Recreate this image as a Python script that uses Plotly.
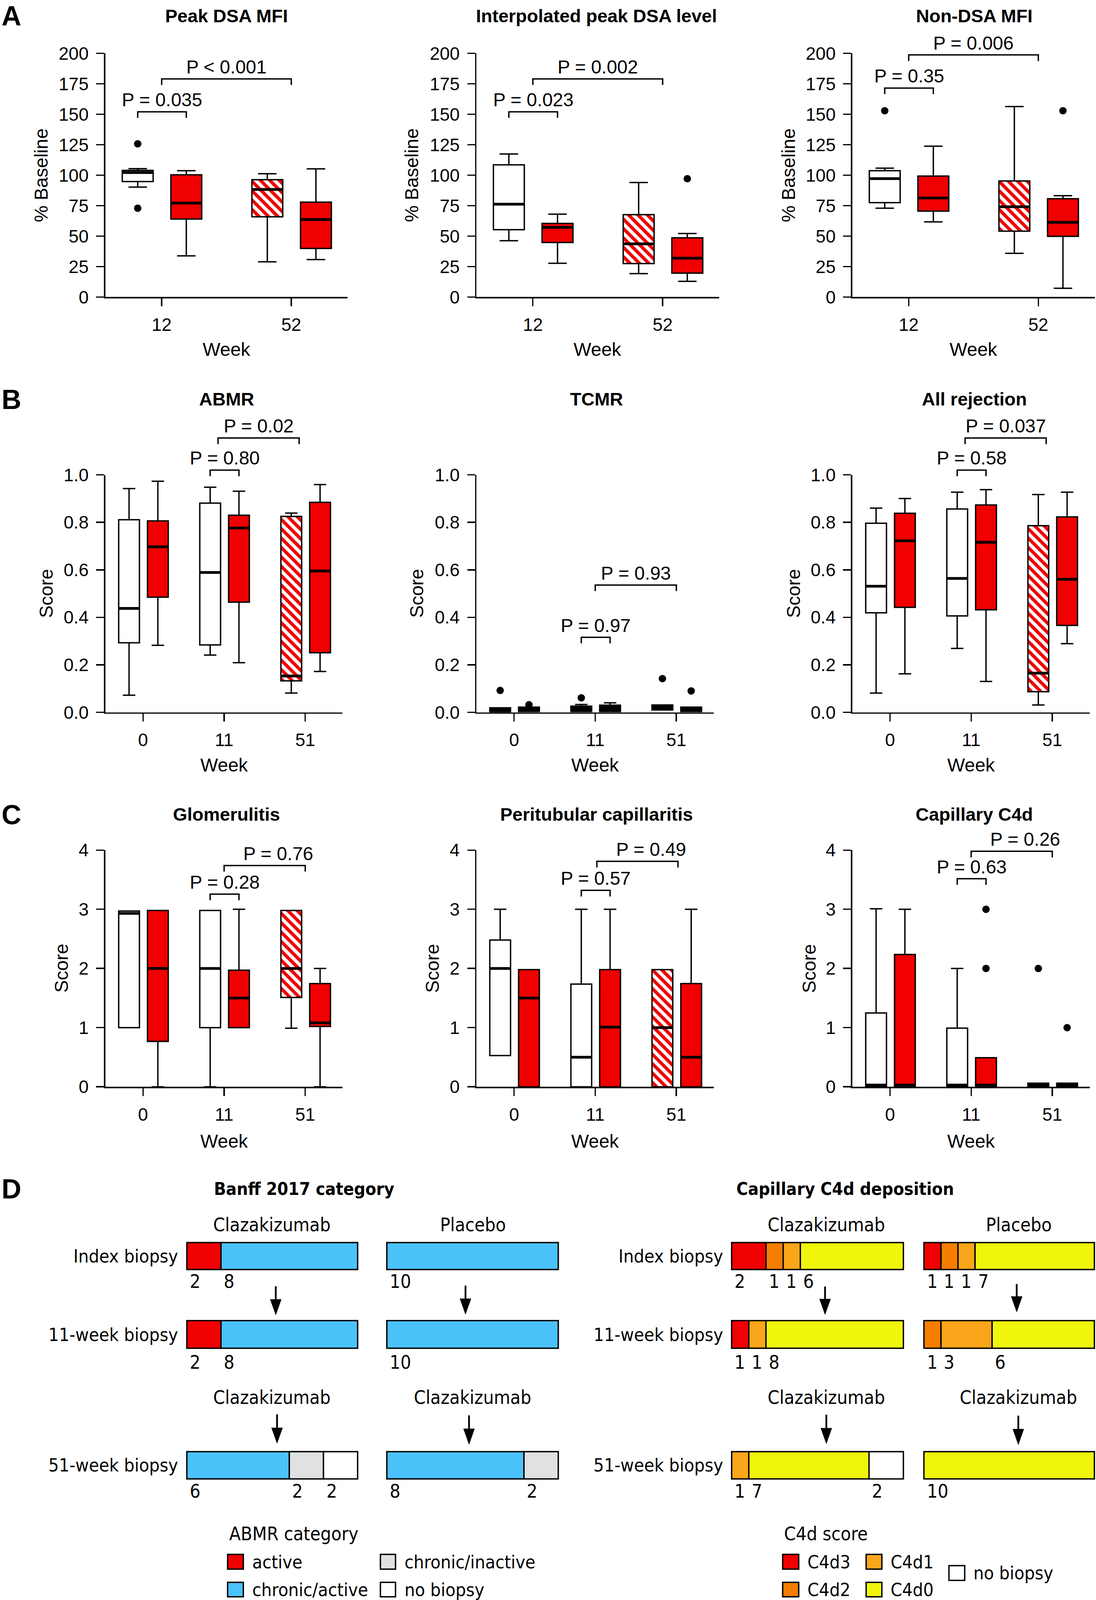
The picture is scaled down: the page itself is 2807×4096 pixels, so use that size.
import plotly.graph_objects as go

# ============================ DATA ============================
weeks_a = ['12', '52']
weeks_bc = ['0', '11', '51']

# box order, panel A: placebo wk12, clazakizumab wk12, placebo->clazakizumab wk52, clazakizumab wk52
arm_a = ['placebo', 'claz', 'switch', 'claz']
time_a = [0, 0, 1, 1]
# box order, panels B/C: wk0 (placebo, claz), wk11 (placebo, claz), wk51 (switch, claz)
arm_bc = ['placebo', 'claz', 'placebo', 'claz', 'switch', 'claz']
time_bc = [0, 0, 1, 1, 2, 2]

# --- A: Peak DSA MFI (% baseline)
peak_lo = [90.2, 33.8, 28.9, 30.8]
peak_q1 = [94.8, 64.0, 65.9, 39.9]
peak_md = [102.2, 77.1, 88.3, 63.6]
peak_q3 = [103.9, 100.3, 96.3, 77.9]
peak_hi = [105.4, 103.7, 101.2, 105.2]
peak_out_box = [0, 0]
peak_out_val = [125.7, 72.9]
peak_p = ['P = 0.035', 'P < 0.001']

# --- A: Interpolated peak DSA level
interp_lo = [46.2, 27.7, 19.2, 12.9]
interp_q1 = [55.3, 44.8, 27.5, 19.6]
interp_md = [76.2, 57.2, 43.7, 31.9]
interp_q3 = [108.5, 60.4, 67.6, 48.6]
interp_hi = [117.4, 68.0, 94.0, 52.2]
interp_out_box = [3]
interp_out_val = [97.1]
interp_p = ['P = 0.023', 'P = 0.002']

# --- A: Non-DSA MFI
nondsa_lo = [72.9, 61.7, 35.9, 7.2]
nondsa_q1 = [77.5, 70.5, 54.1, 49.8]
nondsa_md = [97.2, 81.3, 74.1, 61.3]
nondsa_q3 = [103.7, 99.3, 95.3, 80.7]
nondsa_hi = [105.8, 123.8, 156.3, 83.2]
nondsa_out_box = [0, 3]
nondsa_out_val = [152.9, 152.9]
nondsa_p = ['P = 0.35', 'P = 0.006']

# --- B: ABMR score
abmr_lo = [0.072, 0.282, 0.241, 0.209, 0.081, 0.172]
abmr_q1 = [0.293, 0.485, 0.284, 0.464, 0.1325, 0.251]
abmr_md = [0.4375, 0.697, 0.589, 0.776, 0.153, 0.595]
abmr_q3 = [0.811, 0.806, 0.881, 0.830, 0.825, 0.884]
abmr_hi = [0.942, 0.973, 0.948, 0.931, 0.839, 0.959]
abmr_out_box = []
abmr_out_val = []
abmr_p = ['P = 0.80', 'P = 0.02']

# --- B: TCMR score
tcmr_lo = [0.0, 0.003, 0.003, 0.003, 0.010, 0.003]
tcmr_q1 = [0.0, 0.003, 0.003, 0.003, 0.010, 0.003]
tcmr_md = [0.008, 0.010, 0.012, 0.012, 0.020, 0.010]
tcmr_q3 = [0.019, 0.022, 0.026, 0.030, 0.031, 0.022]
tcmr_hi = [0.019, 0.022, 0.033, 0.040, 0.031, 0.022]
tcmr_out_box = [0, 1, 2, 4, 5]
tcmr_out_val = [0.092, 0.032, 0.061, 0.142, 0.090]
tcmr_p = ['P = 0.97', 'P = 0.93']

# --- B: All rejection score
allrej_lo = [0.081, 0.162, 0.269, 0.130, 0.031, 0.289]
allrej_q1 = [0.419, 0.442, 0.406, 0.432, 0.087, 0.366]
allrej_md = [0.531, 0.722, 0.564, 0.716, 0.165, 0.560]
allrej_q3 = [0.796, 0.838, 0.856, 0.873, 0.786, 0.823]
allrej_hi = [0.860, 0.900, 0.927, 0.9375, 0.917, 0.927]
allrej_out_box = []
allrej_out_val = []
allrej_p = ['P = 0.58', 'P = 0.037']

# --- C: Glomerulitis
glom_lo = [1.0, 0.0, 0.0, 1.0, 0.99, 0.0]
glom_q1 = [1.0, 0.767, 1.0, 1.0, 1.51, 1.02]
glom_md = [2.93, 2.0, 2.0, 1.5, 2.0, 1.08]
glom_q3 = [2.97, 2.98, 2.98, 1.97, 2.98, 1.744]
glom_hi = [2.97, 2.98, 2.98, 3.0, 2.98, 2.0]
glom_out_box = []
glom_out_val = []
glom_p = ['P = 0.28', 'P = 0.76']

# --- C: Peritubular capillaritis
ptc_lo = [0.527, 0.0, 0.0, 0.0, 0.0, 0.0]
ptc_q1 = [0.527, 0.0, 0.0, 0.0, 0.0, 0.0]
ptc_md = [2.0, 1.5, 0.5, 1.008, 1.0, 0.5]
ptc_q3 = [2.48, 1.98, 1.736, 1.98, 1.98, 1.744]
ptc_hi = [3.0, 1.98, 3.0, 3.0, 1.98, 3.0]
ptc_out_box = []
ptc_out_val = []
ptc_p = ['P = 0.57', 'P = 0.49']

# --- C: Capillary C4d
c4d_lo = [0.0, 0.0, 0.0, 0.0, 0.0, 0.0]
c4d_q1 = [0.0, 0.0, 0.0, 0.0, 0.0, 0.0]
c4d_md = [0.03, 0.03, 0.03, 0.03, 0.03, 0.03]
c4d_q3 = [1.248, 2.236, 0.992, 0.492, 0.06, 0.06]
c4d_hi = [3.008, 3.0, 2.0, 0.492, 0.06, 0.06]
c4d_out_box = [3, 3, 4, 5]
c4d_out_val = [3.0, 2.0, 2.0, 1.0]
c4d_p = ['P = 0.63', 'P = 0.26']

# --- D: Banff 2017 category (patient counts)
banff_categories = ['active', 'chronic/active', 'chronic/inactive', 'no biopsy']
banff_claz_index = [2, 8, 0, 0]
banff_claz_wk11 = [2, 8, 0, 0]
banff_claz_wk51 = [0, 6, 2, 2]
banff_plac_index = [0, 10, 0, 0]
banff_plac_wk11 = [0, 10, 0, 0]
banff_plac_wk51 = [0, 8, 2, 0]

# --- D: Capillary C4d deposition (patient counts)
c4d_categories = ['C4d3', 'C4d2', 'C4d1', 'C4d0', 'no biopsy']
c4d_claz_index = [2, 1, 1, 6, 0]
c4d_claz_wk11 = [1, 0, 1, 8, 0]
c4d_claz_wk51 = [0, 0, 1, 7, 2]
c4d_plac_index = [1, 1, 1, 7, 0]
c4d_plac_wk11 = [0, 1, 3, 6, 0]
c4d_plac_wk51 = [0, 0, 0, 10, 0]

row_labels = ['Index biopsy', '11-week biopsy', '51-week biopsy']

# ============================ STYLE / LAYOUT ============================
W0, H0 = 3414.0, 4982.0          # reference pixel grid (drawn at 0.822)
FONT = 'Liberation Sans, Arial, Helvetica, sans-serif'
NARROW = '"Liberation Sans Narrow", "Arial Narrow", "DejaVu Sans Condensed", "Liberation Sans", sans-serif'
RED = '#F00000'
BLUE = '#4BC3FA'
GREY = '#DFE2E1'
banff_colors = [RED, BLUE, GREY, 'white']
c4d_colors = [RED, '#F57E00', '#FAA61A', '#F0F50C', 'white']
LW = 3.5

fig = go.Figure()
LAYOUT = {}
ANN = []
SHP = []
_n = [0]


def add_axes(X0, X1, Yt, Yb, xr, yr, xa_extra=None, ya_extra=None):
    _n[0] += 1
    s = '' if _n[0] == 1 else str(_n[0])
    xa = dict(domain=[max(0.0, X0 / W0), min(1.0, X1 / W0)], range=xr, anchor='y' + s,
              showgrid=False, zeroline=False, fixedrange=True, automargin=False)
    ya = dict(domain=[max(0.0, 1 - Yb / H0), min(1.0, 1 - Yt / H0)], range=yr, anchor='x' + s,
              showgrid=False, zeroline=False, fixedrange=True, automargin=False)
    if xa_extra:
        xa.update(xa_extra)
    if ya_extra:
        ya.update(ya_extra)
    LAYOUT['xaxis' + s] = xa
    LAYOUT['yaxis' + s] = ya
    return 'x' + s, 'y' + s


def text(X, Y, s, size, bold=False, family=FONT, xanchor='center', yanchor='middle', angle=0):
    ANN.append(dict(x=X / W0, y=1 - Y / H0, xref='paper', yref='paper',
                    text=('<b>%s</b>' % s) if bold else s, showarrow=False,
                    font=dict(family=family, size=size, color='black'),
                    xanchor=xanchor, yanchor=yanchor, textangle=angle))


def path(points, width=LW, fill=None, closed=False):
    p = 'M' + ' L'.join('%.6f,%.6f' % (x / W0, 1 - y / H0) for x, y in points)
    if closed:
        p += ' Z'
    d = dict(type='path', xref='paper', yref='paper', path=p,
             line=dict(color='black', width=width))
    if fill:
        d['fillcolor'] = fill
    SHP.append(d)


def rect(X0, Y0, X1, Y1, fill):
    SHP.append(dict(type='rect', xref='paper', yref='paper', x0=X0 / W0, x1=X1 / W0,
                    y0=1 - Y1 / H0, y1=1 - Y0 / H0, fillcolor=fill,
                    line=dict(color='black', width=LW)))


AX_STYLE = dict(showline=True, linecolor='black', linewidth=LW, ticks='outside', ticklen=20,
                tickwidth=LW, tickcolor='black',
                tickfont=dict(family=FONT, size=46, color='black'))

ROWS = {
    'A': dict(Yt=166, Yb=925, yr=[0, 200], yt=list(range(0, 201, 25)), yfmt='',
              ytitle='% Baseline', xr=[-0.435, 1.435], weeks=weeks_a, arm=arm_a, time=time_a,
              off=(-0.185, 0.19), bw=0.238, cols=[(328, 1083), (1484, 2240), (2655, 3410)],
              title_y=49, week_y=1088, ytitle_x=[128, 1282, 2456], short_t=0, long_t=(0, 1),
              week_x=0.5),
    'B': dict(Yt=1478.5, Yb=2218, yr=[0, 1], yt=[0, 0.2, 0.4, 0.6, 0.8, 1.0], yfmt='.1f',
              ytitle='Score', xr=[-0.465, 2.46], weeks=weeks_bc, arm=arm_bc, time=time_bc,
              off=(-0.172, 0.183), bw=0.256, cols=[(328, 1067), (1484, 2223), (2655, 3394)],
              title_y=1242, week_y=2382, ytitle_x=[144, 1299, 2472], short_t=1, long_t=(1, 2),
              week_x=1.0),
    'C': dict(Yt=2647, Yb=3384, yr=[0, 4], yt=[0, 1, 2, 3, 4], yfmt='',
              ytitle='Score', xr=[-0.465, 2.46], weeks=weeks_bc, arm=arm_bc, time=time_bc,
              off=(-0.172, 0.183), bw=0.256, cols=[(328, 1067), (1484, 2223), (2655, 3394)],
              title_y=2536, week_y=3554, ytitle_x=[191, 1347, 2520], short_t=1, long_t=(1, 2),
              week_x=1.0),
}
TITLE_X = [706, 1858, 3035]

PANELS = [
    ('A', 0, 'Peak DSA MFI', peak_lo, peak_q1, peak_md, peak_q3, peak_hi, peak_out_box, peak_out_val, peak_p, 152, 179, 0.0, 0),
    ('A', 1, 'Interpolated peak DSA level', interp_lo, interp_q1, interp_md, interp_q3, interp_hi, interp_out_box, interp_out_val, interp_p, 152, 179, 0.0, 0),
    ('A', 2, 'Non-DSA MFI', nondsa_lo, nondsa_q1, nondsa_md, nondsa_q3, nondsa_hi, nondsa_out_box, nondsa_out_val, nondsa_p, 171.5, 198.7, 0.0, 0),
    ('B', 0, 'ABMR', abmr_lo, abmr_q1, abmr_md, abmr_q3, abmr_hi, abmr_out_box, abmr_out_val, abmr_p, 1.020, 1.155, -0.075, 0),
    ('B', 1, 'TCMR', tcmr_lo, tcmr_q1, tcmr_md, tcmr_q3, tcmr_hi, tcmr_out_box, tcmr_out_val, tcmr_p, 0.316, 0.536, 0.0, 0),
    ('B', 2, 'All rejection', allrej_lo, allrej_q1, allrej_md, allrej_q3, allrej_hi, allrej_out_box, allrej_out_val, allrej_p, 1.020, 1.155, -0.075, 0),
    ('C', 0, 'Glomerulitis', glom_lo, glom_q1, glom_md, glom_q3, glom_hi, glom_out_box, glom_out_val, glom_p, 3.256, 3.74, 0.0, 42),
    ('C', 1, 'Peritubular capillaritis', ptc_lo, ptc_q1, ptc_md, ptc_q3, ptc_hi, ptc_out_box, ptc_out_val, ptc_p, 3.32, 3.81, 0.02, 42),
    ('C', 2, 'Capillary C4d', c4d_lo, c4d_q1, c4d_md, c4d_q3, c4d_hi, c4d_out_box, c4d_out_val, c4d_p, 3.516, 3.98, 0.0, 42),
]

for (rk, ci, title, lo, q1, md, q3, hi, ob, ov, pv, y_short, y_long, long_shift, long_dx) in PANELS:
    R = ROWS[rk]
    X0, X1 = R['cols'][ci]
    Yt, Yb, xr, yr = R['Yt'], R['Yb'], R['xr'], R['yr']
    xa = dict(AX_STYLE, type='linear', tickmode='array',
              tickvals=list(range(len(R['weeks']))), ticktext=R['weeks'], ticklabelstandoff=8)
    ya = dict(AX_STYLE, type='linear', tickmode='array', tickvals=R['yt'],
              tickformat=R['yfmt'], ticklabelstandoff=10)
    xs, ys = add_axes(X0, X1, Yt, Yb, xr, yr, xa, ya)

    def mx(x, X0=X0, X1=X1, xr=xr):
        return X0 + (x - xr[0]) / (xr[1] - xr[0]) * (X1 - X0)

    def my(y, Yt=Yt, Yb=Yb, yr=yr):
        return Yb - (y - yr[0]) / (yr[1] - yr[0]) * (Yb - Yt)

    bw = R['bw']
    span = yr[1] - yr[0]
    pos = [R['time'][i] + (R['off'][0] if R['arm'][i] in ('placebo', 'switch') else R['off'][1])
           for i in range(len(lo))]
    for i, arm in enumerate(R['arm']):
        tiny = (q3[i] - q1[i]) < 0.04 * span     # very flat boxes print as solid black bars
        if arm == 'switch' and not tiny:
            fig.add_trace(go.Bar(
                x=[pos[i]], y=[q3[i] - q1[i]], base=[q1[i]], width=bw, xaxis=xs, yaxis=ys,
                marker=dict(color='white', line=dict(width=0),
                            pattern=dict(shape='\\', fgcolor=RED, bgcolor='white',
                                         size=17, solidity=0.5)),
                showlegend=False, hoverinfo='skip'))
        fill = {'placebo': 'white', 'claz': RED, 'switch': 'rgba(0,0,0,0)'}[arm]
        if tiny:
            fill = 'black'
        fig.add_trace(go.Box(
            x=[pos[i]], q1=[q1[i]], median=[md[i]], q3=[q3[i]],
            lowerfence=[lo[i]], upperfence=[hi[i]], orientation='v',
            width=bw, whiskerwidth=0.6, fillcolor=fill, boxpoints=False,
            line=dict(color='black', width=LW), xaxis=xs, yaxis=ys,
            showlegend=False, hoverinfo='skip'))
        fig.add_trace(go.Scatter(
            x=[pos[i] - bw / 2, pos[i] + bw / 2], y=[md[i], md[i]], mode='lines',
            line=dict(color='black', width=7), xaxis=xs, yaxis=ys,
            showlegend=False, hoverinfo='skip'))
    if ob:
        fig.add_trace(go.Scatter(
            x=[pos[b] for b in ob], y=ov, mode='markers',
            marker=dict(color='black', size=19, line=dict(width=0)),
            xaxis=xs, yaxis=ys, showlegend=False, hoverinfo='skip', cliponaxis=False))

    # significance brackets
    st = [i for i in range(len(lo)) if R['time'][i] == R['short_t']]
    xa_s, xb_s = mx(pos[st[0]]), mx(pos[st[1]])
    Ys = my(y_short)
    path([(xa_s, Ys + 19), (xa_s, Ys), (xb_s, Ys), (xb_s, Ys + 19)])
    text((xa_s + xb_s) / 2, Ys - 37, pv[0], 48)
    xa_l = mx(R['long_t'][0] + long_shift)
    xb_l = mx(R['long_t'][1] + long_shift)
    Yl = my(y_long)
    path([(xa_l, Yl + 19), (xa_l, Yl), (xb_l, Yl), (xb_l, Yl + 19)])
    text((xa_l + xb_l) / 2 + long_dx, Yl - 37, pv[1], 48)

    # titles
    text(TITLE_X[ci], R['title_y'], title, 47, bold=True)
    text(R['ytitle_x'][ci], (Yt + Yb) / 2, R['ytitle'], 48, angle=-90)
    text(mx(R['week_x']), R['week_y'], 'Week', 48)

# panel letters
for L, Y in (('A', 50), ('B', 1244), ('C', 2537), ('D', 3702)):
    text(2, Y, L, 70, bold=True, xanchor='left')

# ============================ PANEL D ============================
ROW_Y = [(3869, 3953), (4112, 4198), (4520, 4605)]
LABEL_Y = [3989, 4241, 4643]
PAD = 8

D_GROUPS = [
    (banff_colors, (582, 1114), [banff_claz_index, banff_claz_wk11, banff_claz_wk51]),
    (banff_colors, (1205, 1739), [banff_plac_index, banff_plac_wk11, banff_plac_wk51]),
    (c4d_colors, (2279, 2814), [c4d_claz_index, c4d_claz_wk11, c4d_claz_wk51]),
    (c4d_colors, (2878, 3409), [c4d_plac_index, c4d_plac_wk11, c4d_plac_wk51]),
]
for colors, (BX0, BX1), rows in D_GROUPS:
    for r, counts in enumerate(rows):
        BY0, BY1 = ROW_Y[r]
        total = float(sum(counts))
        u = total / (BX1 - BX0)
        h = BY1 - BY0
        DX0, DX1 = BX0 - PAD, min(W0, BX1 + PAD)
        xs, ys = add_axes(DX0, DX1, BY0 - PAD, BY1 + PAD,
                          [-(BX0 - DX0) * u, total + (DX1 - BX1) * u],
                          [-0.5 - PAD / h, 0.5 + PAD / h],
                          dict(visible=False), dict(visible=False))
        cum = 0
        for k, c in enumerate(counts):
            if c <= 0:
                continue
            fig.add_trace(go.Bar(
                x=[c], y=[0], base=[cum], orientation='h', width=1.0, xaxis=xs, yaxis=ys,
                marker=dict(color=colors[k], line=dict(color='black', width=LW)),
                showlegend=False, hoverinfo='skip'))
            ANN.append(dict(x=cum + 0.12, y=1 - LABEL_Y[r] / H0, xref=xs, yref='paper',
                            text=str(c), showarrow=False, xanchor='left', yanchor='middle',
                            font=dict(family=NARROW, size=48, color='black')))
            cum += c

# headers, row labels, titles
text(947, 3702, 'Banff 2017 category', 45, bold=True, family=NARROW)
text(2632, 3702, 'Capillary C4d deposition', 45, bold=True, family=NARROW)
for X, Y, s in ((847, 3813, 'Clazakizumab'), (1473, 3813, 'Placebo'),
                (847, 4351, 'Clazakizumab'), (1472, 4351, 'Clazakizumab'),
                (2574, 3813, 'Clazakizumab'), (3174, 3813, 'Placebo'),
                (2574, 4351, 'Clazakizumab'), (3172, 4351, 'Clazakizumab')):
    text(X, Y, s, 48, family=NARROW)
for Xr in (557, 2255):
    for lab, Y in zip(row_labels, (3911, 4155, 4562)):
        text(Xr, Y, lab, 47, family=NARROW, xanchor='right')

# arrows
for X, Y0, Y1 in ((859, 4005, 4094), (1450, 4003, 4092), (863, 4404, 4494), (1461, 4407, 4497),
                  (2570, 4006, 4093), (3167, 3998, 4085), (2574, 4405, 4495), (3172, 4408, 4498)):
    path([(X, Y0), (X, Y1 - 36)], width=4.5)
    path([(X - 17, Y1 - 48), (X + 17, Y1 - 48), (X, Y1)], width=1, fill='black', closed=True)

# legends
text(712, 4775, 'ABMR category', 48, family=NARROW, xanchor='left')
for (X0, Y0, X1, Y1), k in (((709, 4840, 758, 4886), 0), ((709, 4927, 758, 4972), 1),
                            ((1185, 4840, 1232, 4886), 2), ((1185, 4927, 1232, 4972), 3)):
    rect(X0, Y0, X1, Y1, banff_colors[k])
    text(X1 + 25, (Y0 + Y1) / 2, banff_categories[k], 47, family=NARROW, xanchor='left')

text(2440, 4775, 'C4d score', 48, family=NARROW, xanchor='left')
for (X0, Y0, X1, Y1), k in (((2438, 4840, 2488, 4886), 0), ((2438, 4927, 2488, 4972), 1),
                            ((2698, 4840, 2747, 4886), 2), ((2698, 4927, 2747, 4972), 3),
                            ((2956, 4875, 3005, 4921), 4)):
    rect(X0, Y0, X1, Y1, c4d_colors[k])
    text(X1 + 25, (Y0 + Y1) / 2, c4d_categories[k], 47, family=NARROW, xanchor='left')

fig.update_layout(
    template='none',
    width=2807, height=4096, margin=dict(l=0, r=0, t=0, b=0, pad=0, autoexpand=False),
    paper_bgcolor='white', plot_bgcolor='rgba(0,0,0,0)', showlegend=False,
    barmode='overlay', boxmode='overlay', annotations=ANN, shapes=SHP,
    font=dict(family=FONT, color='black'), **LAYOUT)

PIN = ("document.documentElement.style.margin='0';document.body.style.margin='0';"
       "document.body.style.padding='0';document.documentElement.style.overflow='hidden';"
       "var gd=document.getElementById('{plot_id}');gd.style.position='absolute';"
       "gd.style.left='0px';gd.style.top='0px';")

fig.write_html('out.html', config={'displayModeBar': False, 'staticPlot': True},
               post_script=PIN)
